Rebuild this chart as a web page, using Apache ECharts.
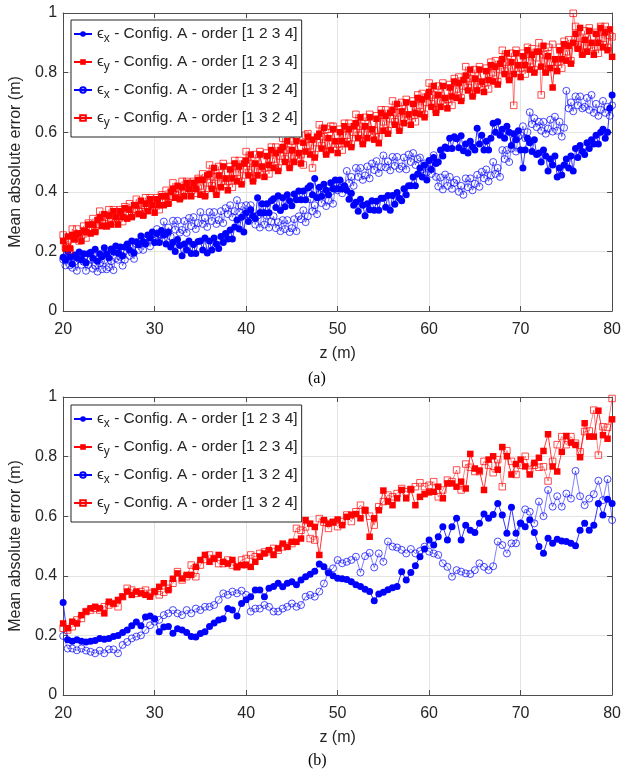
<!DOCTYPE html>
<html><head><meta charset="utf-8">
<script src="https://cdn.jsdelivr.net/npm/echarts@6/dist/echarts.min.js"></script>
<style>html,body{margin:0;padding:0;background:#fff}#c{width:624px;height:773px}</style>
</head><body><div id="c"></div>
<script>
// ---------- data ----------
const xTicks = [20, 30, 40, 50, 60, 70, 80];
const yTicks = [0, 0.2, 0.4, 0.6, 0.8, 1];
const seriesNames = ['ex1234', 'ey1234', 'ex1324', 'ey1324'];
const legendSub = ['x', 'y', 'x', 'y'];
const legendOrder = ['1 2 3 4', '1 2 3 4', '1 3 2 4', '1 3 2 4'];
const panelLabels = ['(a)', '(b)'];

// z positions (m): panel (a) every 0.25 m, panel (b) every 0.5 m
const zA = Array.from({length: 241}, (_, i) => 20 + i * 0.25);
const zB = Array.from({length: 121}, (_, i) => 20 + i * 0.5);

// panel (a)
const aEx1234 = [
.18,.17,.2,.18, .158,.188,.178,.198, .172,.192,.162,.192, .197,.177,.207,.167,
.192,.182,.212,.192, .178,.208,.198,.218, .195,.215,.185,.215, .225,.205,.235,.195,
.232,.222,.252,.232, .225,.255,.245,.265, .23,.26,.23,.27, .255,.225,.265,.215,
.23,.2,.24,.22, .185,.225,.205,.235, .193,.223,.193,.233, .235,.205,.245,.195,
.235,.205,.245,.225, .21,.25,.23,.26, .242,.272,.242,.282, .305,.275,.315,.265,
.33,.3,.34,.32, .31,.38,.33,.36, .33,.36,.33,.37, .377,.347,.387,.337,
.38,.35,.39,.37, .353,.393,.373,.403, .373,.403,.373,.413, .42,.39,.445,.38,
.415,.385,.425,.405, .39,.43,.41,.44, .41,.44,.41,.42, .405,.375,.395,.355,
.365,.335,.375,.355, .32,.36,.34,.37, .338,.368,.338,.378, .378,.348,.388,.338,
.388,.358,.398,.378, .37,.41,.39,.42, .42,.45,.42,.46, .48,.45,.49,.44,
.505,.475,.515,.495, .5,.54,.52,.55, .545,.58,.545,.585, .578,.548,.588,.538,
.56,.53,.57,.55, .54,.613,.56,.59, .54,.57,.54,.58, .63,.6,.635,.59,
.61,.58,.62,.6, .555,.595,.575,.605, .54,.48,.54,.58, .565,.535,.575,.525,
.53,.5,.54,.52, .47,.51,.49,.52, .45,.48,.456,.49, .51,.48,.52,.47,
.545,.515,.555,.535, .525,.565,.545,.575, .56,.59,.56,.6, .61,.58,.6,.68,
.725];
const aEy1234 = [
.235,.21,.25,.21, .255,.24,.26,.26, .235,.27,.265,.29, .26,.29,.265,.305,
.315,.285,.325,.285, .32,.29,.335,.315, .29,.335,.315,.345, .31,.34,.315,.355,
.355,.325,.37,.32, .36,.335,.375,.355, .33,.375,.355,.385, .355,.385,.36,.4,
.41,.38,.42,.375, .415,.385,.43,.41, .385,.43,.41,.44, .39,.44,.385,.455,
.46,.41,.48,.39, .455,.415,.485,.445, .405,.475,.445,.495, .435,.485,.425,.495,
.505,.455,.525,.435, .495,.455,.525,.485, .45,.52,.49,.54, .48,.53,.47,.54,
.55,.5,.57,.48, .54,.5,.57,.53, .495,.565,.535,.585, .525,.575,.515,.585,
.595,.545,.615,.525, .58,.54,.61,.57, .53,.6,.57,.62, .56,.61,.55,.62,
.63,.58,.65,.56, .62,.58,.65,.61, .575,.645,.563,.665, .605,.655,.595,.665,
.675,.625,.695,.605, .67,.63,.7,.66, .625,.695,.665,.715, .66,.71,.65,.72,
.735,.685,.755,.665, .725,.685,.755,.715, .68,.75,.72,.77, .715,.765,.705,.775,
.79,.74,.81,.72, .78,.74,.81,.77, .735,.805,.775,.825, .77,.82,.76,.83,
.845,.795,.865,.775, .835,.795,.865,.825, .785,.855,.825,.875, .81,.86,.8,.87,
.87,.82,.89,.8, .855,.815,.75,.845, .805,.875,.845,.895, .84,.89,.83,.9,
.93,.88,.95,.86, .91,.87,.94,.9, .86,.93,.9,.95, .885,.935,.875,.945,
.853];
const aEx1324 = [
.173,.153,.183,.153, .145,.165,.135,.175, .155,.165,.135,.155, .172,.142,.152,.132,
.16,.14,.17,.14, .147,.167,.137,.177, .172,.182,.152,.172, .215,.185,.195,.175,
.225,.205,.235,.205, .227,.247,.217,.257, .245,.275,.235,.255, .3,.26,.28,.25,
.303,.273,.303,.263, .272,.302,.262,.312, .285,.315,.275,.295, .332,.292,.312,.282,
.332,.302,.332,.292, .305,.335,.295,.345, .325,.355,.315,.335, .372,.332,.352,.322,
.355,.325,.355,.315, .29,.32,.28,.33, .29,.32,.28,.3, .318,.278,.298,.268,
.305,.275,.305,.265, .278,.308,.268,.318, .308,.338,.298,.318, .375,.335,.355,.325,
.392,.362,.392,.352, .37,.4,.36,.41, .405,.435,.395,.415, .47,.43,.45,.42,
.48,.45,.48,.44, .455,.485,.445,.495, .473,.503,.463,.483, .522,.482,.502,.472,
.517,.487,.517,.477, .485,.515,.475,.525, .5,.53,.49,.51, .515,.475,.495,.465,
.49,.46,.523,.45, .418,.448,.408,.458, .42,.45,.41,.43, .44,.4,.42,.39,
.445,.415,.445,.405, .427,.457,.417,.467, .445,.475,.435,.455, .5,.46,.48,.45,
.54,.51,.54,.5, .545,.575,.535,.585, .59,.62,.58,.6, .667,.627,.647,.617,
.635,.605,.635,.595, .612,.642,.602,.652, .605,.635,.585,.615, .739,.68,.7,.67,
.72,.69,.72,.68, .685,.715,.675,.725, .665,.695,.655,.675, .705,.665,.685,.655,
.69];
const aEy1324 = [
.255,.215,.235,.205, .275,.245,.275,.235, .255,.285,.245,.295, .28,.31,.27,.29,
.335,.295,.315,.285, .34,.31,.34,.3, .31,.34,.3,.35, .33,.36,.32,.34,
.375,.335,.355,.325, .38,.35,.38,.34, .35,.38,.34,.39, .375,.405,.365,.385,
.43,.39,.41,.38, .435,.405,.435,.395, .405,.435,.395,.445, .42,.46,.39,.43,
.49,.42,.45,.4, .485,.435,.495,.425, .435,.485,.415,.505, .465,.505,.435,.475,
.535,.465,.495,.445, .525,.475,.535,.465, .48,.53,.46,.55, .51,.55,.48,.52,
.58,.51,.54,.49, .57,.52,.58,.51, .525,.49,.59,.595, .555,.48,.525,.565,
.625,.555,.585,.535, .61,.62,.62,.55, .56,.61,.54,.63, .59,.63,.56,.6,
.66,.59,.62,.57, .65,.6,.66,.59, .605,.655,.585,.675, .635,.675,.605,.645,
.705,.635,.665,.615, .7,.65,.71,.64, .655,.705,.635,.725, .69,.73,.66,.7,
.765,.695,.725,.675, .755,.705,.765,.695, .71,.76,.69,.78, .745,.785,.715,.755,
.82,.75,.78,.73, .81,.76,.82,.75, .765,.815,.745,.835, .8,.84,.77,.81,
.875,.805,.835,.785, .865,.69,.875,.805, .815,.865,.795,.885, .84,.88,.81,.85,
.9,.725,.86,.81, .885,.835,.895,.825, .835,.885,.815,.905, .87,.91,.84,.999,
.955,.885,.915,.865, .94,.89,.95,.88, .885,.935,.865,.955, .915,.955,.885,.925,
.92];

// panel (b)
const bEx1234 = [
0.31,0.185,0.18,0.185,0.18,0.178,0.18,0.183,0.19,0.187,
0.19,0.196,0.2,0.21,0.218,0.232,0.245,0.232,0.262,0.265,
0.256,0.212,0.228,0.23,0.207,0.222,0.218,0.21,0.196,0.195,
0.206,0.212,0.23,0.242,0.252,0.256,0.29,0.285,0.265,0.307,
0.32,0.33,0.352,0.352,0.33,0.358,0.364,0.375,0.363,0.375,
0.38,0.37,0.386,0.397,0.405,0.415,0.44,0.43,0.41,0.4,
0.392,0.39,0.388,0.38,0.37,0.364,0.355,0.347,0.316,0.339,
0.345,0.353,0.36,0.364,0.414,0.386,0.411,0.434,0.464,0.49,
0.52,0.503,0.531,0.565,0.52,0.565,0.593,0.52,0.57,0.553,
0.545,0.576,0.607,0.593,0.606,0.643,0.604,0.543,0.63,0.543,
0.576,0.565,0.588,0.545,0.498,0.476,0.526,0.509,0.523,0.517,
0.515,0.509,0.501,0.553,0.576,0.553,0.57,0.643,0.604,0.657,
0.643];
const bEy1234 = [
0.24,0.224,0.246,0.24,0.268,0.28,0.291,0.296,0.291,0.274,
0.313,0.307,0.319,0.33,0.347,0.336,0.347,0.341,0.336,0.33,
0.347,0.363,0.375,0.352,0.39,0.408,0.391,0.403,0.403,0.43,
0.453,0.47,0.447,0.458,0.47,0.447,0.441,0.453,0.43,0.436,
0.436,0.43,0.447,0.464,0.475,0.486,0.47,0.492,0.508,0.497,
0.514,0.514,0.525,0.587,0.575,0.564,0.47,0.587,0.575,0.58,
0.589,0.57,0.598,0.605,0.607,0.593,0.62,0.531,0.593,0.62,
0.686,0.649,0.637,0.66,0.688,0.66,0.69,0.637,0.665,0.674,
0.68,0.682,0.699,0.66,0.71,0.71,0.699,0.716,0.693,0.809,
0.76,0.753,0.688,0.79,0.801,0.756,0.832,0.801,0.74,0.775,
0.79,0.767,0.74,0.779,0.796,0.819,0.875,0.767,0.75,0.816,
0.869,0.847,0.839,0.798,0.912,0.867,0.867,0.954,0.872,0.86,
0.925];
const bEx1324 = [
0.198,0.156,0.156,0.15,0.156,0.149,0.145,0.14,0.149,0.14,
0.153,0.153,0.14,0.168,0.178,0.19,0.196,0.2,0.218,0.234,
0.246,0.252,0.268,0.274,0.285,0.274,0.268,0.285,0.274,0.29,
0.285,0.296,0.296,0.302,0.319,0.341,0.336,0.347,0.341,0.35,
0.336,0.28,0.29,0.29,0.302,0.296,0.28,0.28,0.29,0.296,
0.307,0.296,0.302,0.33,0.336,0.33,0.347,0.374,0.413,0.425,
0.453,0.442,0.447,0.453,0.464,0.411,0.466,0.477,0.428,0.475,
0.447,0.515,0.498,0.495,0.487,0.475,0.49,0.475,0.483,0.498,
0.481,0.475,0.47,0.442,0.43,0.397,0.419,0.414,0.408,0.406,
0.419,0.442,0.43,0.419,0.432,0.515,0.503,0.475,0.509,0.509,
0.576,0.623,0.615,0.576,0.649,0.6,0.688,0.632,0.667,0.632,
0.676,0.659,0.752,0.667,0.637,0.659,0.674,0.719,0.654,0.724,
0.587];
const bEy1324 = [
0.224,0.218,0.229,0.252,0.257,0.28,0.285,0.291,0.285,0.296,
0.302,0.307,0.296,0.33,0.358,0.352,0.341,0.347,0.352,0.341,
0.347,0.336,0.345,0.358,0.375,0.414,0.386,0.397,0.436,0.397,
0.436,0.455,0.47,0.458,0.441,0.441,0.453,0.436,0.43,0.453,
0.458,0.47,0.464,0.475,0.48,0.481,0.492,0.486,0.497,0.5,
0.508,0.559,0.553,0.564,0.525,0.52,0.592,0.58,0.559,0.58,
0.565,0.582,0.604,0.582,0.615,0.637,0.62,0.6,0.57,0.632,
0.649,0.671,0.665,0.676,0.693,0.682,0.69,0.699,0.712,0.699,
0.704,0.716,0.665,0.688,0.721,0.716,0.755,0.688,0.775,0.764,
0.75,0.75,0.784,0.771,0.746,0.79,0.699,0.82,0.784,0.74,
0.771,0.801,0.757,0.771,0.764,0.766,0.718,0.784,0.84,0.867,
0.84,0.867,0.845,0.816,0.884,0.886,0.956,0.805,0.9,0.898,
0.995];

// ---------- chart ----------
const FONT = '"Liberation Sans", Arial, Helvetica, sans-serif';
const AX = '#4d4d4d';
const TXT = '#262626';
const chart = echarts.init(document.getElementById('c'), null, {renderer: 'canvas'});

const grids = [
  {left: 63, top: 13, width: 553, height: 298},
  {left: 63, top: 397, width: 553, height: 298}
];

const xAxes = [], yAxes = [];
grids.forEach((g, gi) => {
  const common = {gridIndex: gi, type: 'value', min: xTicks[0], max: xTicks[xTicks.length - 1], interval: 10,
    axisLine: {show: true, onZero: false, lineStyle: {color: AX, width: 1}},
    axisTick: {show: true, inside: true, length: 5, lineStyle: {color: AX}}};
  xAxes.push(Object.assign({}, common, {position: 'bottom',
    axisLabel: {color: TXT, fontSize: 16, fontFamily: FONT, margin: 11},
    splitLine: {show: true, lineStyle: {color: '#e4e4e4', width: 1}},
    name: 'z (m)', nameLocation: 'middle', nameGap: 35,
    nameTextStyle: {color: TXT, fontSize: 16, fontFamily: FONT}}));
  xAxes.push(Object.assign({}, common, {position: 'top', axisLabel: {show: false}, splitLine: {show: false}}));
  const ycommon = {gridIndex: gi, type: 'value', min: yTicks[0], max: yTicks[yTicks.length - 1], interval: 0.2,
    axisLine: {show: true, onZero: false, lineStyle: {color: AX, width: 1}},
    axisTick: {show: true, inside: true, length: 5, lineStyle: {color: AX}}};
  yAxes.push(Object.assign({}, ycommon, {position: 'left',
    axisLabel: {color: TXT, fontSize: 16, fontFamily: FONT, margin: 6, formatter: v => String(+v.toFixed(1))},
    splitLine: {show: true, lineStyle: {color: '#e4e4e4', width: 1}},
    name: 'Mean absolute error (m)', nameLocation: 'middle', nameGap: 31, nameRotate: 90,
    nameTextStyle: {color: TXT, fontSize: 16, fontFamily: FONT}}));
  yAxes.push(Object.assign({}, ycommon, {position: 'right', axisLabel: {show: false}, splitLine: {show: false}}));
});

const styles = [
  {symbol: 'circle', symbolSize: 7, itemStyle: {color: '#0000ff'}, lineStyle: {color: '#0000ff', width: 0.8}},
  {symbol: 'rect', symbolSize: 6.5, itemStyle: {color: '#ff0000'}, lineStyle: {color: '#ff0000', width: 0.8}},
  {symbol: 'circle', symbolSize: 7, itemStyle: {color: 'rgba(255,255,255,0)', borderColor: '#0000ff', borderWidth: 0.7}, lineStyle: {color: '#0000ff', width: 0.5}},
  {symbol: 'rect', symbolSize: 6.5, itemStyle: {color: 'rgba(255,255,255,0)', borderColor: '#ff0000', borderWidth: 0.7}, lineStyle: {color: '#ff0000', width: 0.5}}
];
const panels = [
  {z: zA, vals: [aEx1234, aEy1234, aEx1324, aEy1324]},
  {z: zB, vals: [bEx1234, bEy1234, bEx1324, bEy1324]}
];
const series = [];
panels.forEach((p, pi) => {
  p.vals.forEach((v, si) => {
    series.push(Object.assign({
      name: seriesNames[si], type: 'line', xAxisIndex: pi * 2, yAxisIndex: pi * 2,
      showSymbol: true, showAllSymbol: true, animation: false, silent: true,
      data: p.z.map((z, i) => [z, v[i]])
    }, JSON.parse(JSON.stringify(styles[si]))));
  });
});

function legendFor(top) {
  return {
    orient: 'vertical', left: 71, top: top, itemWidth: 18, itemHeight: 7, itemGap: 9,
    padding: [6, 4, 8, 2], borderColor: '#262626', borderWidth: 1, backgroundColor: '#fff',
    selectedMode: false,
    data: seriesNames,
    formatter: name => {
      const i = seriesNames.indexOf(name);
      return '{e|\u03F5}{s|' + legendSub[i] + '}{t| - Config. A - order [' + legendOrder[i] + ']}';
    },
    textStyle: {
      color: TXT, fontFamily: FONT, fontSize: 15.5,
      rich: {
        e: {fontSize: 15.5, lineHeight: 22, fontFamily: FONT, color: TXT},
        s: {fontSize: 12, lineHeight: 8, verticalAlign: 'bottom', fontFamily: FONT, color: TXT},
        t: {fontSize: 15.5, lineHeight: 22, fontFamily: FONT, color: TXT}
      }
    }
  };
}

chart.setOption({
  animation: false,
  backgroundColor: '#fff',
  grid: grids,
  xAxis: xAxes,
  yAxis: yAxes,
  legend: [legendFor(20), legendFor(405)],
  title: [
    {text: panelLabels[0], left: 308, top: 371, padding: 0, textStyle: {fontFamily: '"Liberation Serif", "Times New Roman", serif', fontSize: 16, fontWeight: 'normal', color: '#000'}},
    {text: panelLabels[1], left: 308, top: 753, padding: 0, textStyle: {fontFamily: '"Liberation Serif", "Times New Roman", serif', fontSize: 16, fontWeight: 'normal', color: '#000'}}
  ],
  series: series
});
</script></body></html>
